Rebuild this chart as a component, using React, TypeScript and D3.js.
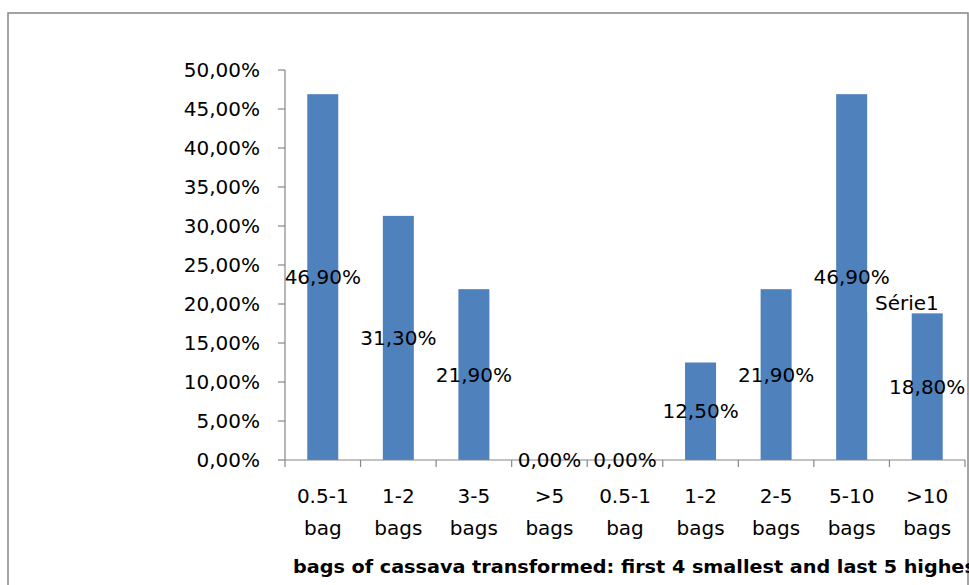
import React from "react";
import * as d3 from "d3";

const categoriesLine1 = ["0.5-1", "1-2", "3-5", ">5", "0.5-1", "1-2", "2-5", "5-10", ">10"];
const categoriesLine2 = ["bag", "bags", "bags", "bags", "bag", "bags", "bags", "bags", "bags"];
const values = [0.469, 0.313, 0.219, 0.0, 0.0, 0.125, 0.219, 0.469, 0.188];
const valueLabels = ["46,90%", "31,30%", "21,90%", "0,00%", "0,00%", "12,50%", "21,90%", "46,90%", "18,80%"];
const yTicks = [0, 0.05, 0.1, 0.15, 0.2, 0.25, 0.3, 0.35, 0.4, 0.45, 0.5];
const seriesName = "Série1";
const axisTitle = "bags of cassava transformed: first 4 smallest and last 5 highest";

const W = 969;
const H = 585;
const FONT = "'DejaVu Sans', sans-serif";

export default function App() {
  const plotLeft = 285;
  const plotRight = 965;
  const plotTop = 70;
  const plotBottom = 460;

  const idx = categoriesLine1.map((_, i) => String(i));
  const x = d3.scaleBand<string>().domain(idx).range([plotLeft, plotRight]).paddingInner(0).paddingOuter(0);
  const y = d3.scaleLinear().domain([0, 0.5]).range([plotBottom, plotTop]);
  const barW = 31;
  const fmt = (v: number) => (v * 100).toFixed(2).replace(".", ",") + "%";
  const axisColor = "#868686";

  const boundaries = d3.range(categoriesLine1.length + 1).map((i) => plotLeft + i * x.bandwidth());

  return (
    <svg
      width={W}
      height={H}
      style={{ position: "absolute", left: 0, top: 0, background: "#fff" }}
      fontFamily={FONT}
    >
      <rect x={0} y={0} width={W} height={H} fill="#fff" />
      <rect x={8} y={13} width={960} height={600} fill="none" stroke={axisColor} strokeWidth={1.5} />

      {/* bars */}
      {values.map((v, i) => {
        const cx = (x(String(i)) as number) + x.bandwidth() / 2;
        return (
          <rect key={"b" + i} x={cx - barW / 2} y={y(v)} width={barW} height={plotBottom - y(v)} fill="#4F81BD" />
        );
      })}

      {/* y axis */}
      <line x1={plotLeft} x2={plotLeft} y1={plotTop} y2={plotBottom} stroke={axisColor} strokeWidth={1.2} />
      {yTicks.map((t) => (
        <g key={"yt" + t}>
          <line x1={plotLeft - 7} x2={plotLeft} y1={y(t)} y2={y(t)} stroke={axisColor} strokeWidth={1.2} />
          <text x={260} y={y(t)} dy="0.36em" textAnchor="end" fontSize={20} fill="#000">
            {fmt(t)}
          </text>
        </g>
      ))}

      {/* x axis */}
      <line x1={plotLeft} x2={plotRight} y1={plotBottom} y2={plotBottom} stroke={axisColor} strokeWidth={1.2} />
      {boundaries.map((b, i) => (
        <line key={"xt" + i} x1={b} x2={b} y1={plotBottom} y2={plotBottom + 7} stroke={axisColor} strokeWidth={1.2} />
      ))}
      {categoriesLine1.map((c, i) => {
        const cx = (x(String(i)) as number) + x.bandwidth() / 2;
        return (
          <g key={"xl" + i}>
            <text x={cx} y={503} textAnchor="middle" fontSize={20} fill="#000">{c}</text>
            <text x={cx} y={535} textAnchor="middle" fontSize={20} fill="#000">{categoriesLine2[i]}</text>
          </g>
        );
      })}

      {/* legend */}
      <rect x={867} y={289} width={80} height={23} fill="#fff" />
      <text x={875} y={310} fontSize={20} fill="#000">{seriesName}</text>

      {/* data labels */}
      {values.map((v, i) => {
        const cx = (x(String(i)) as number) + x.bandwidth() / 2;
        return (
          <text key={"dl" + i} x={cx} y={y(v / 2)} dy="0.36em" textAnchor="middle" fontSize={20} fill="#000">
            {valueLabels[i]}
          </text>
        );
      })}

      {/* axis title */}
      <text x={293} y={573} fontSize={18} fontWeight="bold" fill="#000" textLength={692} lengthAdjust="spacingAndGlyphs">
        {axisTitle}
      </text>
    </svg>
  );
}
